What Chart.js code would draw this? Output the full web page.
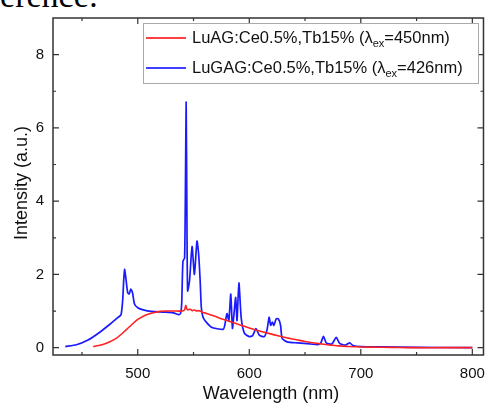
<!DOCTYPE html>
<html>
<head>
<meta charset="utf-8">
<script src="https://cdn.jsdelivr.net/npm/chart.js@4.4.0/dist/chart.umd.min.js"></script>
<style>
  html, body { margin: 0; padding: 0; background: #fff; }
  #wrap { position: relative; width: 495px; height: 408px; overflow: hidden; }
  #cut { position: absolute; left: -49px; top: -21px; font: 34px "Liberation Serif"; line-height: 34px; white-space: nowrap; color: #000; }
  #specChart { position: absolute; left: 0; top: 0; }
</style>
</head>
<body>
<div id="wrap">
  <div id="cut">Reference:</div>
  <canvas id="specChart" width="495" height="408"></canvas>
</div>
<script>
// red curve: LuAG:Ce0.5%,Tb15% (ex 450nm)
var luagX = [460, 465, 470, 475, 480, 485, 490, 495, 500, 505, 510, 515, 520, 525, 530, 535, 540, 542, 543, 544, 545, 547, 549, 551, 553, 555, 558, 560, 565, 570, 575, 580, 585, 590, 595, 600, 605, 610, 615, 620, 625, 630, 635, 640, 645, 650, 655, 660, 665, 670, 675, 680, 685, 690, 695, 700, 710, 720, 735, 750, 775, 800];
var luagY = [0.03, 0.06, 0.1, 0.16, 0.24, 0.36, 0.5, 0.64, 0.77, 0.86, 0.92, 0.96, 0.99, 1.0, 1.0, 1.0, 1.0, 1.04, 1.15, 1.06, 1.03, 1.05, 1.01, 1.03, 1.0, 1.01, 0.97, 0.95, 0.9, 0.85, 0.79, 0.74, 0.69, 0.64, 0.59, 0.54, 0.49, 0.45, 0.41, 0.37, 0.33, 0.29, 0.26, 0.23, 0.2, 0.17, 0.14, 0.12, 0.1, 0.08, 0.065, 0.05, 0.04, 0.03, 0.025, 0.02, 0.015, 0.01, 0.005, 0.0, 0.0, 0.0];

// blue curve: LuGAG:Ce0.5%,Tb15% (ex 426nm)
var lugagX = [435, 445, 455, 465, 475, 482, 485, 486.5, 487.5, 488.3, 489.5, 491, 492.3, 493.8, 495.3, 497, 500, 505, 512, 524, 532, 537, 538.5, 539.4, 540.5, 542, 542.8, 543.4, 544, 544.7, 546.4, 548.7, 550.8, 553.1, 554.6, 556, 557, 559, 566, 576.6, 578, 580, 581.7, 583.4, 584.9, 586.3, 587.8, 589, 590.7, 592.8, 595.7, 600, 603, 606, 609, 613.4, 616, 617.8, 619.2, 620.7, 622, 624.2, 626, 628, 629.5, 634, 643, 655, 661, 664, 666.5, 669, 674, 678, 681, 686, 690, 693, 700, 720, 750, 800];
var lugagY = [0.03, 0.08, 0.2, 0.4, 0.64, 0.82, 0.9, 1.3, 1.9, 2.14, 1.85, 1.5, 1.47, 1.6, 1.5, 1.2, 1.09, 1.03, 0.99, 0.97, 0.95, 0.9, 0.95, 1.2, 2.36, 2.45, 4.6, 6.7, 4.0, 1.55, 1.82, 2.76, 2.0, 2.91, 2.55, 1.8, 1.1, 0.8, 0.56, 0.5, 0.61, 0.93, 0.74, 1.46, 0.53, 0.93, 1.37, 0.74, 1.77, 0.8, 0.39, 0.3, 0.33, 0.52, 0.34, 0.3, 0.5, 0.83, 0.61, 0.7, 0.61, 0.79, 0.79, 0.62, 0.25, 0.16, 0.13, 0.1, 0.08, 0.12, 0.31, 0.13, 0.1, 0.28, 0.12, 0.07, 0.13, 0.06, 0.03, 0.02, 0.01, 0.0];

var xTicks = [500, 600, 700, 800];
var xMinor = [450, 550, 650, 750];
var yTicks = [0, 2, 4, 6, 8];
var yMinor = [1, 3, 5, 7];

var legendLabels = [
  { name: "LuAG:Ce0.5%,Tb15% (λ", sub: "ex", tail: "=450nm)", color: "#ff0000" },
  { name: "LuGAG:Ce0.5%,Tb15% (λ", sub: "ex", tail: "=426nm)", color: "#0000ff" }
];

function toPoints(xs, ys) {
  var pts = [];
  for (var i = 0; i < xs.length; i++) pts.push({ x: xs[i], y: ys[i] });
  return pts;
}

var textFont = '"Liberation Sans", Arial, sans-serif';

// frame, inward ticks, titles and legend
var framePlugin = {
  id: 'frame',
  afterDraw: function(chart) {
    var ctx = chart.ctx;
    var a = chart.chartArea;
    var xs = chart.scales.x, ys = chart.scales.y;
    ctx.save();
    ctx.strokeStyle = '#333';
    ctx.lineWidth = 1.5;
    ctx.strokeRect(a.left, a.top, a.right - a.left, a.bottom - a.top);
    ctx.lineWidth = 1.2;
    ctx.beginPath();
    function xt(v, len) {
      var p = xs.getPixelForValue(v);
      ctx.moveTo(p, a.bottom); ctx.lineTo(p, a.bottom - len);
      ctx.moveTo(p, a.top); ctx.lineTo(p, a.top + len);
    }
    function yt(v, len) {
      var p = ys.getPixelForValue(v);
      ctx.moveTo(a.left, p); ctx.lineTo(a.left + len, p);
      ctx.moveTo(a.right, p); ctx.lineTo(a.right - len, p);
    }
    xTicks.forEach(function(v){ xt(v, 6); });
    xMinor.forEach(function(v){ xt(v, 3); });
    yTicks.forEach(function(v){ yt(v, 6); });
    yMinor.forEach(function(v){ yt(v, 3); });
    ctx.stroke();

    // axis titles
    ctx.fillStyle = '#111';
    ctx.font = '18px ' + textFont;
    ctx.textAlign = 'center';
    ctx.textBaseline = 'middle';
    ctx.fillText('Wavelength (nm)', 271, 394);
    ctx.save();
    ctx.translate(22, 183);
    ctx.rotate(-Math.PI / 2);
    ctx.fillText('Intensity (a.u.)', 0, 0);
    ctx.restore();

    // legend
    var lx = 143, ly = 23, lw = 335, lh = 60;
    ctx.fillStyle = '#fff';
    ctx.fillRect(lx, ly, lw, lh);
    ctx.strokeStyle = '#aaa';
    ctx.lineWidth = 1;
    ctx.strokeRect(lx + 0.5, ly + 0.5, lw, lh);
    legendLabels.forEach(function(item, i) {
      var cy = 38 + i * 30;
      ctx.strokeStyle = item.color;
      ctx.lineWidth = 1.4;
      ctx.beginPath();
      ctx.moveTo(146, cy); ctx.lineTo(186, cy);
      ctx.stroke();
      ctx.fillStyle = '#111';
      ctx.textAlign = 'left';
      ctx.textBaseline = 'middle';
      ctx.font = '16.5px ' + textFont;
      var x = 192;
      ctx.fillText(item.name, x, cy);
      x += ctx.measureText(item.name).width;
      ctx.font = '11px ' + textFont;
      ctx.fillText(item.sub, x, cy + 6);
      x += ctx.measureText(item.sub).width;
      ctx.font = '16.5px ' + textFont;
      ctx.fillText(item.tail, x, cy);
    });
    ctx.restore();
  }
};

var config = {
  type: 'scatter',
  data: {
    datasets: [{
      label: 'LuAG:Ce0.5%,Tb15%',
      data: toPoints(luagX, luagY),
      borderColor: '#ff2020',
      borderWidth: 1.6,
      showLine: true,
      pointRadius: 0,
      tension: 0.3
    }, {
      label: 'LuGAG:Ce0.5%,Tb15%',
      data: toPoints(lugagX, lugagY),
      borderColor: '#1a1aff',
      borderWidth: 1.7,
      showLine: true,
      pointRadius: 0,
      tension: 0.2
    }]
  },
  options: {
    responsive: false,
    animation: false,
    layout: { padding: { top: 13, right: 6, left: 0, bottom: 0 } },
    plugins: { legend: { display: false }, tooltip: { enabled: false } },
    scales: {
      x: {
        type: 'linear', min: 424, max: 810,
        grid: { display: false, drawTicks: false }, border: { display: false },
        afterBuildTicks: function(s) { s.ticks = xTicks.map(function(v){ return { value: v }; }); },
        afterFit: function(s) { s.height = 53; },
        ticks: { padding: 10, color: '#111', font: { size: 15, family: textFont }, maxRotation: 0 }
      },
      y: {
        type: 'linear', min: -0.2, max: 9,
        grid: { display: false, drawTicks: false }, border: { display: false },
        afterBuildTicks: function(s) { s.ticks = yTicks.map(function(v){ return { value: v }; }); },
        afterFit: function(s) { s.width = 53; },
        ticks: { padding: 9, color: '#111', font: { size: 15, family: textFont } }
      }
    }
  },
  plugins: [framePlugin]
};

var ctx = document.getElementById("specChart");
var charts = new Chart(ctx, config);
</script>
</body>
</html>
